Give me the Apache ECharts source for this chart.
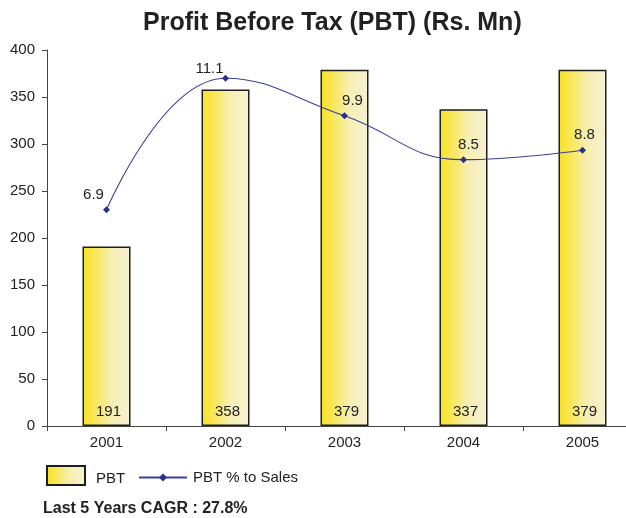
<!DOCTYPE html>
<html>
<head>
<meta charset="utf-8">
<script src="https://cdn.jsdelivr.net/npm/echarts@6/dist/echarts.min.js"></script>
<style>
    html, body { margin: 0; padding: 0; background: #fff; }
    #chart { width: 626px; height: 518px; }
</style>
</head>
<body>
<div id="chart"></div>
<script>
// data
const years = ['2001', '2002', '2003', '2004', '2005'];
const pbt = [191, 358, 379, 337, 379];
const pbtPctSales = [6.9, 11.1, 9.9, 8.5, 8.8];
const yTicks = [0, 50, 100, 150, 200, 250, 300, 350, 400];

// label nudges for the line values (style only)
const pctLabelOffsets = [[-13, 0], [-16, 6], [8, 0], [5, 0], [2, 0]];

const font = 'Liberation Sans, Arial, sans-serif';
const fs = 15;

const barGradient = new echarts.graphic.LinearGradient(0, 0, 1, 0, [
    { offset: 0, color: '#f8e21e' },
    { offset: 0.3, color: '#f8e864' },
    { offset: 0.6, color: '#f6efb4' },
    { offset: 1, color: '#f6f1d2' }
]);

const chart = echarts.init(document.getElementById('chart'));

const option = {
    animation: false,
    textStyle: { fontFamily: font },
    title: [
        {
            text: 'Profit Before Tax (PBT) (Rs. Mn)',
            left: 138,
            top: 6,
            textStyle: { fontSize: 25, fontWeight: 'bold', color: '#222', fontFamily: font }
        },
        {
            text: 'Last 5 Years CAGR : 27.8%',
            left: 38,
            top: 496,
            textStyle: { fontSize: 16, fontWeight: 'bold', color: '#222', fontFamily: font }
        }
    ],
    legend: [
        {
            left: 46,
            top: 465,
            padding: 0,
            itemWidth: 38,
            itemHeight: 19,
            formatter: '{t|{name}}',
            textStyle: {
                fontSize: fs, color: '#222', fontFamily: font,
                rich: { t: { fontSize: fs, color: '#222', fontFamily: font, padding: [7, 0, 0, 6] } }
            },
            data: [{ name: 'PBT', icon: 'rect' }]
        },
        {
            left: 138,
            top: 470,
            padding: 0,
            itemWidth: 48,
            itemHeight: 10,
            textStyle: { fontSize: fs, color: '#222', fontFamily: font, padding: [0, 0, 0, 1] },
            data: ['PBT % to Sales']
        }
    ],
    grid: {
        left: 47,
        top: 50,
        right: -16,
        height: 376,
        outerBoundsMode: 'none'
    },
    xAxis: {
        type: 'category',
        data: years,
        axisLine: { lineStyle: { color: '#444', width: 1 } },
        axisTick: { show: true, length: 5, lineStyle: { color: '#444' } },
        axisLabel: { fontSize: fs, color: '#222', margin: 9 }
    },
    yAxis: [
        {
            type: 'value',
            min: yTicks[0],
            max: yTicks[yTicks.length - 1],
            interval: yTicks[1] - yTicks[0],
            splitLine: { show: false },
            axisLine: { show: true, lineStyle: { color: '#444', width: 1 } },
            axisTick: { show: true, length: 5, lineStyle: { color: '#444' } },
            axisLabel: { fontSize: fs, color: '#222', margin: 12 }
        },
        {
            type: 'value',
            min: 0,
            max: 12,
            show: false,
            splitLine: { show: false }
        }
    ],
    series: [
        {
            name: 'PBT',
            type: 'bar',
            data: pbt,
            barWidth: 48,
            itemStyle: {
                color: barGradient,
                borderColor: '#1e1e1e',
                borderWidth: 1.5
            },
            label: {
                show: true,
                position: 'insideBottom',
                distance: 7,
                offset: [2, 0],
                fontSize: fs,
                color: '#222',
                fontFamily: font
            }
        },
        {
            name: 'PBT % to Sales',
            type: 'line',
            yAxisIndex: 1,
            smooth: 0.45,
            symbol: 'diamond',
            symbolSize: 7,
            data: pbtPctSales.map((v, i) => ({
                value: v,
                label: { offset: pctLabelOffsets[i], fontSize: fs, fontFamily: font, color: '#222' }
            })),
            lineStyle: { color: '#3a3e9c', width: 1.1 },
            itemStyle: { color: '#2b2f8c' },
            label: {
                show: true,
                position: 'top',
                distance: 4,
                fontSize: fs,
                color: '#222',
                fontFamily: font,
                formatter: p => p.value.toFixed(1)
            }
        }
    ]
};

chart.setOption(option);
</script>
</body>
</html>
